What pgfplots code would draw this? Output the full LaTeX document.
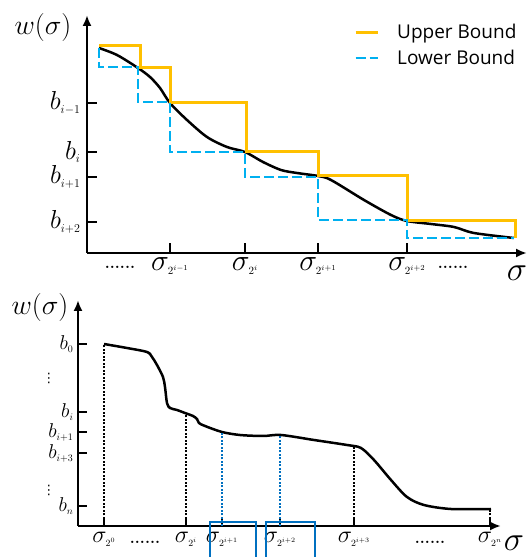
\RequirePackage{fix-cm}
\documentclass[border=0pt]{standalone}
\usepackage{fontspec}
\usepackage{pgfplots}
\pgfplotsset{compat=1.18}
\usetikzlibrary{arrows.meta}
\newfontfamily\legendfont{Open Sans}
\newfontfamily\dejavu{DejaVu Sans}
\definecolor{upper}{HTML}{FFC000}
\definecolor{lower}{HTML}{00B0F0}
\definecolor{boxblue}{HTML}{0070C0}
% small subscripts, as in the figure
\newcommand\sub[2]{\mbox{\fontsize{#1}{#1}\selectfont$#2$}}

\begin{document}
\begin{tikzpicture}
\useasboundingbox (0,0) rectangle (528pt,557pt);

% top panel: step bounds around the curve
\begin{axis}[
    x=1pt, y=1pt,
    at={(87pt,304pt)}, anchor=south west,
    xmin=87, xmax=527, ymin=304, ymax=542,
    enlargelimits=false, clip=false,
    axis lines=left,
    axis line style={line width=2.8pt, -{Latex[length=11pt,width=9pt]}},
    tick align=inside, major tick length=10pt,
    tick style={line width=2.8pt, black},
    xtick={170,245,318,407},
    xticklabels={$\sigma_{\sub{11}{2^{i-1}}}$,$\sigma_{\sub{11}{2^{i}}}$,$\sigma_{\sub{11}{2^{i+1}}}$,$\sigma_{\sub{11}{2^{i+2}}}$},
    xticklabel style={font=\fontsize{30}{34}\selectfont, yshift=-1pt},
    ytick={335,380,405,454},
    yticklabels={$b_{\sub{12}{i{+}2}}$,$b_{\sub{12}{i{+}1}}$,$b_{\sub{12}{i}}$,$b_{\sub{12}{i{-}1}}$},
    yticklabel style={font=\fontsize{26}{30}\selectfont, xshift=-3pt},
    legend style={at={(axis cs:354,535)}, anchor=north west, draw=none, fill=none,
        font=\legendfont\fontsize{19}{22}\selectfont, row sep=6pt, column sep=16pt,
        inner sep=0pt},
    legend cell align=left,
    legend image code/.code={\draw[#1] (0pt,0pt) -- (22pt,0pt);},
]
\addplot[black, line width=2.5pt, smooth, tension=0.5, forget plot] coordinates {
    (99,509) (117,502) (138,489) (150,480) (160,469) (170,454) (187,437)
    (207,420) (227,410) (245,405) (263,395) (281,387) (297,384) (318,381)
    (331,377) (364,357) (391,342) (407,336) (431,333) (454,330) (474,324) (514,319)
};
\addplot[upper, line width=3pt] coordinates {
    (99,511) (140,511) (140,489) (170,489) (170,454) (246,454) (246,405)
    (318,405) (318,381) (407,381) (407,336) (515,336) (515,319)
};
\addlegendentry{Upper Bound}
\addplot[lower, line width=2.8pt, dash pattern=on 10pt off 4pt] coordinates {
    (99,509) (99,490) (138,490) (138,455) (170,455) (170,405) (245,405)
    (245,380) (318,380) (318,337) (407,337) (407,319) (514,319)
};
\addlegendentry{Lower Bound}
\node[font=\fontsize{28}{32}\selectfont] at (axis cs:43,529) {$w(\sigma)$};
\node[font=\fontsize{34}{38}\selectfont] at (axis cs:517,284) {$\sigma$};
\node[font=\bfseries\fontsize{16}{18}\selectfont, anchor=base] at (axis cs:120,288) {......};
\node[font=\bfseries\fontsize{16}{18}\selectfont, anchor=base] at (axis cs:453,288) {......};
\end{axis}

% bottom panel: sampled points on the curve
\begin{axis}[
    x=1pt, y=1pt,
    at={(78pt,31pt)}, anchor=south west,
    xmin=78, xmax=501, ymin=31, ymax=257,
    enlargelimits=false, clip=false,
    axis lines=left,
    axis line style={line width=2.8pt, -{Latex[length=11pt,width=9pt]}},
    tick align=inside, major tick length=9pt,
    tick style={line width=2.8pt, black},
    xtick={104,186,222,280,354,490},
    xticklabels={$\sigma_{\sub{9.5}{2^{0}}}$,$\sigma_{\sub{9.5}{2^{i}}}$,$\sigma_{\sub{9.5}{2^{i+1}}}$,$\sigma_{\sub{9.5}{2^{i+2}}}$,$\sigma_{\sub{9.5}{2^{i+3}}}$,$\sigma_{\sub{9.5}{2^{n}}}$},
    xticklabel style={font=\fontsize{24}{27}\selectfont, yshift=-3pt},
    ytick={51,104,125,145,213},
    yticklabels={$b_{\sub{10}{n}}$,$b_{\sub{10}{i{+}3}}$,$b_{\sub{10}{i{+}1}}$,$b_{\sub{10}{i}}$,$b_{\sub{10}{0}}$},
    yticklabel style={font=\fontsize{20}{23}\selectfont, xshift=-1pt},
]
\addplot[black, line width=2.5pt, smooth, tension=0.5] coordinates {
    (104,213) (127,209) (147,205) (152,200) (157,192) (163,180) (165,170)
    (167,154) (170,149) (177,147) (185,144) (193,141) (197,138) (199,134)
    (205,131) (222,125) (240,122) (263,121) (281,122) (314,117) (347,112)
    (361,109) (374,97) (391,77) (407,60) (424,52) (451,48) (491,48)
};
\addplot[black, line width=2.2pt, dash pattern=on 2pt off 1.5pt] coordinates {(104,31) (104,213)};
\addplot[black, line width=2.2pt, dash pattern=on 2pt off 1.5pt] coordinates {(186,31) (186,144)};
\addplot[boxblue, line width=2.2pt, dash pattern=on 2pt off 1.5pt] coordinates {(222,31) (222,125)};
\addplot[boxblue, line width=2.2pt, dash pattern=on 2pt off 1.5pt] coordinates {(280,31) (280,122)};
\addplot[black, line width=2.2pt, dash pattern=on 2pt off 1.5pt] coordinates {(354,31) (354,111)};
\addplot[black, line width=2.2pt, dash pattern=on 2pt off 1.5pt] coordinates {(490,31) (490,48)};
\addplot[boxblue, line width=1.5pt] coordinates {(210,0) (210,35) (256,35) (256,0)};
\addplot[boxblue, line width=1.5pt] coordinates {(266,0) (266,35) (315,35) (315,0)};
\node[font=\fontsize{28}{32}\selectfont] at (axis cs:40,249) {$w(\sigma)$};
\node[font=\fontsize{34}{38}\selectfont] at (axis cs:514,14) {$\sigma$};
\node[font=\dejavu\fontsize{13}{15}\selectfont, inner sep=0pt] at (axis cs:49,179) {⋮};
\node[font=\dejavu\fontsize{13}{15}\selectfont, inner sep=0pt] at (axis cs:49,67) {⋮};
\node[font=\bfseries\fontsize{16}{18}\selectfont, anchor=base] at (axis cs:145,13) {......};
\node[font=\bfseries\fontsize{16}{18}\selectfont, anchor=base] at (axis cs:430,13) {......};
\end{axis}
\end{tikzpicture}
\end{document}
